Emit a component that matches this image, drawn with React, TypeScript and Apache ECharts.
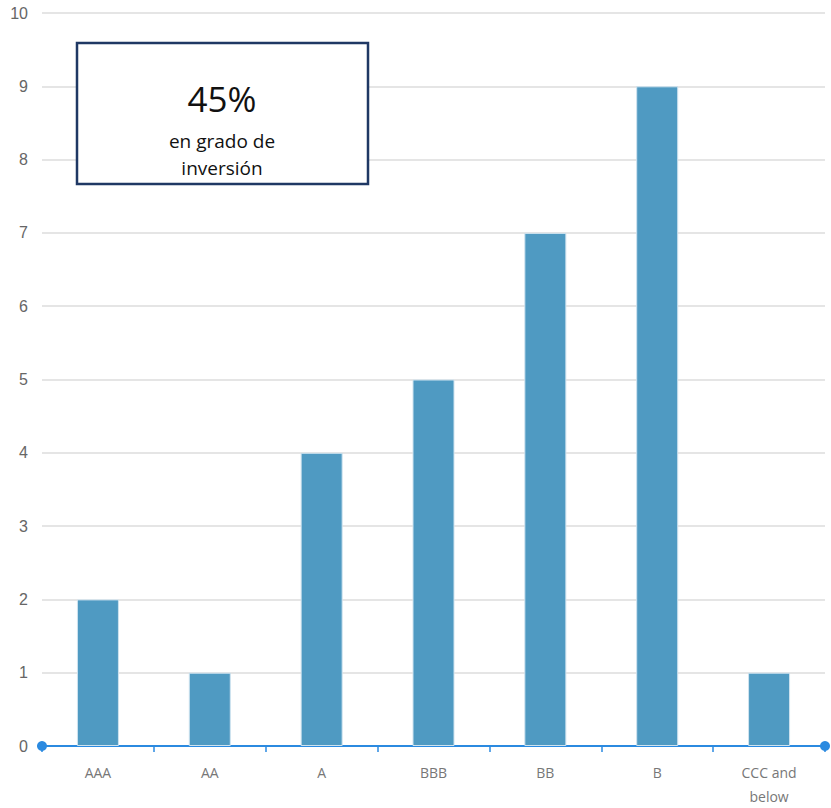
import React, { useEffect, useRef } from "react";
import * as echarts from "echarts";

const categories = ["AAA", "AA", "A", "BBB", "BB", "B", "CCC and\nbelow"];
const values = [2, 1, 4, 5, 7, 9, 1];
const yTicks = [0, 10];
const boxTitle = "45%";
const boxLines = ["en grado de", "inversión"];

export default function App() {
  const ref = useRef<HTMLDivElement>(null);
  useEffect(() => {
    const chart = echarts.init(ref.current!, null, { renderer: "svg" });
    chart.setOption({
      animation: false,
      grid: { left: 42, right: 6, top: 13, bottom: 60, containLabel: false },
      xAxis: {
        type: "category",
        data: categories,
        axisLine: {
          lineStyle: { color: "#2b8ae0", width: 2 },
          symbol: ["circle", "circle"],
          symbolSize: [10, 10],
        },
        axisTick: { show: true, alignWithLabel: false, length: 6, lineStyle: { color: "#2b8ae0", width: 1.5 } },
        axisLabel: {
          color: "#777",
          fontSize: 14,
          fontFamily: "Open Sans",
          margin: 14,
          lineHeight: 24,
          interval: 0,
        },
      },
      yAxis: {
        type: "value",
        min: yTicks[0],
        max: yTicks[1],
        interval: 1,
        axisLine: { show: false },
        axisTick: { show: false },
        axisLabel: { color: "#666", fontSize: 16, fontFamily: "Liberation Sans", margin: 14 },
        splitLine: { lineStyle: { color: "#dddddd", width: 1.5 } },
      },
      series: [
        {
          type: "bar",
          data: values,
          barWidth: 42,
          itemStyle: { color: "#4f9ac2", borderColor: "#cfe3ef", borderWidth: 1 },
        },
      ],
      graphic: [
        {
          type: "rect",
          shape: { x: 77, y: 43, width: 291, height: 141 },
          style: { fill: "#fff", stroke: "#1f3864", lineWidth: 2.5 },
          z: 100,
        },
        {
          type: "text",
          x: 222,
          y: 98,
          style: { text: boxTitle, fontSize: 35, fontFamily: "Open Sans", fill: "#111", textAlign: "center", textVerticalAlign: "middle" },
          z: 101,
        },
        {
          type: "text",
          x: 222,
          y: 141,
          style: { text: boxLines[0], fontSize: 19, fontFamily: "Open Sans", fill: "#111", textAlign: "center", textVerticalAlign: "middle" },
          z: 101,
        },
        {
          type: "text",
          x: 222,
          y: 168,
          style: { text: boxLines[1], fontSize: 19, fontFamily: "Open Sans", fill: "#111", textAlign: "center", textVerticalAlign: "middle" },
          z: 101,
        },
      ],
    });
    return () => chart.dispose();
  }, []);
  return <div ref={ref} style={{ width: 831, height: 808, position: "absolute", left: 0, top: 0 }} />;
}
